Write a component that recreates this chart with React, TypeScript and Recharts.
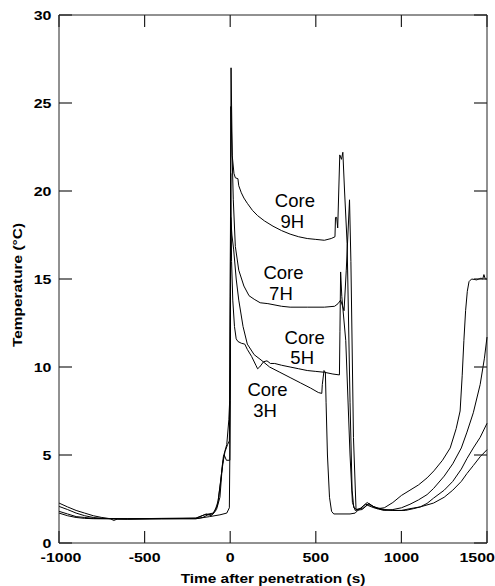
import * as React from "react";
import { Line, LineChart, ReferenceLine, XAxis, YAxis } from "recharts";

/* ---------- data: [time (s), temperature (°C)] ---------- */
const xTicks = [-1000, -500, 0, 500, 1000, 1500];
const yTicks = [0, 5, 10, 15, 20, 25, 30];

const core3H: [number, number][] = [
    [-1000, 1.7], [-950, 1.55], [-900, 1.45], [-850, 1.4], [-800, 1.38], [-600, 1.36], [-400, 1.38],
    [-200, 1.38], [-120, 1.5], [-60, 1.6], [-20, 1.7], [-5, 2.0], [-2, 5], [0, 8.1], [3, 18.5],
    [10, 17.5], [20, 16.7], [35, 15.0], [50, 13.8], [75, 12.3], [100, 11.3], [140, 10.7], [180, 10.4],
    [230, 10.0], [290, 9.7], [350, 9.4], [410, 9.1], [470, 8.8], [515, 8.55], [535, 8.5], [538, 9.0],
    [548, 9.8], [556, 9.7], [560, 8], [568, 5], [580, 2.6], [592, 1.8], [605, 1.65], [700, 1.65],
    [730, 1.7], [745, 1.85], [790, 2.2], [820, 2.15], [860, 1.95], [900, 2.0], [950, 2.3], [1000, 2.7],
    [1050, 3.0], [1100, 3.3], [1150, 3.7], [1190, 4.1], [1240, 4.7], [1285, 5.4], [1320, 6.5],
    [1343, 7.5], [1355, 9.5], [1365, 11.5], [1375, 13.2], [1385, 14.3], [1395, 14.85], [1410, 15.0],
    [1440, 14.95], [1465, 15.05], [1475, 15.0], [1482, 15.25], [1490, 15.0], [1500, 15.0],
];

const core5H: [number, number][] = [
    [-1000, 1.8], [-950, 1.65], [-900, 1.5], [-850, 1.45], [-800, 1.4], [-600, 1.38], [-400, 1.38],
    [-200, 1.38], [-160, 1.45], [-130, 1.6], [-100, 1.65], [-80, 1.9], [-60, 2.6], [-45, 4.5],
    [-30, 5.2], [-15, 5.6], [-5, 5.8], [0, 10], [3, 21.0], [8, 16], [15, 13.8], [25, 12.3], [35, 11.6],
    [45, 11.45], [65, 11.35], [85, 11.3], [100, 11.0], [125, 10.6], [150, 10.1], [160, 9.9], [172, 10.0],
    [195, 10.3], [215, 10.35], [235, 10.2], [260, 10.2], [300, 10.1], [350, 10.0], [400, 9.9],
    [450, 9.8], [500, 9.75], [550, 9.7], [600, 9.6], [638, 9.55], [641, 12], [645, 15.4], [652, 14],
    [675, 11.5], [700, 5], [714, 2.3], [730, 1.85], [770, 1.9], [800, 2.15], [840, 2.0], [900, 1.85],
    [950, 1.9], [1000, 2.0], [1050, 2.2], [1100, 2.45], [1150, 2.75], [1188, 3.1], [1250, 3.8],
    [1300, 4.5], [1350, 5.4], [1383, 6.3], [1420, 7.4], [1460, 9.0], [1485, 10.5], [1500, 11.7],
];

const core7H: [number, number][] = [
    [-1000, 2.08], [-950, 1.9], [-900, 1.7], [-850, 1.55], [-800, 1.45], [-750, 1.4], [-600, 1.36],
    [-400, 1.38], [-200, 1.4], [-140, 1.65], [-110, 1.55], [-90, 1.8], [-70, 2.4], [-50, 4.0],
    [-35, 5.0], [-22, 4.7], [-2, 4.7], [0, 12], [4, 24.8], [10, 22.5], [18, 19.5], [30, 16.85],
    [50, 15.5], [80, 14.6], [110, 14.05], [140, 13.85], [175, 13.65], [220, 13.6], [300, 13.45],
    [350, 13.4], [450, 13.4], [550, 13.4], [610, 13.45], [630, 13.6], [645, 13.8], [655, 13.5],
    [665, 13.2], [678, 15.5], [697, 19.5], [705, 16], [720, 6], [735, 1.9], [760, 1.95], [800, 2.3],
    [830, 2.1], [880, 1.9], [950, 1.85], [1000, 1.85], [1050, 1.95], [1110, 2.05], [1150, 2.25],
    [1188, 2.55], [1250, 3.0], [1300, 3.5], [1350, 4.2], [1383, 4.8], [1420, 5.4], [1460, 6.0],
    [1500, 6.8],
];

const core9H: [number, number][] = [
    [-1000, 2.27], [-950, 2.05], [-900, 1.85], [-850, 1.7], [-800, 1.55], [-750, 1.45], [-700, 1.38],
    [-680, 1.28], [-660, 1.36], [-550, 1.38], [-400, 1.4], [-200, 1.42], [-150, 1.6], [-100, 1.7],
    [-75, 2.1], [-57, 3.4], [-40, 4.9], [-20, 5.6], [-8, 7.0], [-3, 8.1], [0, 14], [5, 27.0], [12, 22.0],
    [22, 21.0], [30, 20.75], [45, 20.7], [50, 20.3], [65, 19.9], [80, 19.6], [100, 19.3], [130, 18.9],
    [160, 18.6], [200, 18.3], [250, 18.0], [300, 17.75], [350, 17.55], [400, 17.4], [450, 17.3],
    [500, 17.25], [550, 17.2], [590, 17.3], [612, 17.4], [615, 18.5], [622, 18.5], [628, 17.9],
    [640, 22.05], [650, 21.8], [658, 22.2], [668, 20.0], [683, 17.0], [700, 8], [712, 3], [722, 2.0],
    [740, 1.9], [780, 2.0], [810, 2.25], [840, 2.05], [900, 1.9], [950, 1.85], [1023, 1.85],
    [1070, 1.95], [1110, 2.05], [1188, 2.27], [1250, 2.6], [1300, 3.0], [1350, 3.5], [1383, 3.95],
    [1420, 4.4], [1460, 4.9], [1500, 5.3],
];

const coreNames = ["3H", "5H", "7H", "9H"];
const coreSeries = [core3H, core5H, core7H, core9H];
// where each "Core xH" caption sits, in data units (baseline of the first line)
const captionAnchors: [number, number][] = [[218, 8.35], [435, 11.32], [311, 15.0], [378, 19.09]];

/* ---------- layout / styling ---------- */
const W = 495;
const H = 586;
const MARGIN = { top: 15, right: 8, bottom: 0, left: 9 };
const Y_AXIS_W = 50;
const X_AXIS_H = 43;
const PLOT = {
    left: MARGIN.left + Y_AXIS_W,
    top: MARGIN.top,
    width: W - MARGIN.left - Y_AXIS_W - MARGIN.right,
    height: H - MARGIN.top - MARGIN.bottom - X_AXIS_H,
};
const FONT = '"Liberation Sans", Arial, Helvetica, sans-serif';
const STRETCH = 1.2;
const INK = "#222";
const X_MIN = -1000;
const X_MAX = 1500;
const Y_MIN = 0;
const Y_MAX = 30;
const TICK_V = 12; // inward tick length on top / bottom edges, px
const TICK_H = 13; // inward tick length on left / right edges, px

const toRows = (pts: [number, number][]) => pts.map(([t, v]) => ({ t, v }));
const px = (t: number) => PLOT.left + ((t - X_MIN) / (X_MAX - X_MIN)) * PLOT.width;
const py = (v: number) => PLOT.top + ((Y_MAX - v) / (Y_MAX - Y_MIN)) * PLOT.height;

function BottomTick({ x, y, payload }: any) {
    const v = payload.value;
    const tx = v === X_MAX ? Number(x) + 8 : v === X_MIN ? Number(x) + 2 : Number(x);
    return (
        <text
            transform={`translate(${tx},${Number(y) + 19}) scale(${STRETCH},1)`}
            textAnchor={v === X_MAX ? "end" : "middle"}
            fontFamily={FONT}
            fontWeight="bold"
            fontSize={13.3}
            fill="#000"
        >
            {v}
        </text>
    );
}

function LeftTick({ x, y, payload }: any) {
    return (
        <text
            transform={`translate(${Number(x) - 7.5},${Number(y) + 4.8}) scale(${STRETCH},1)`}
            textAnchor="end"
            fontFamily={FONT}
            fontWeight="bold"
            fontSize={13.3}
            fill="#000"
        >
            {payload.value}
        </text>
    );
}

/* axis titles, captions and the inward tick marks of the frame */
function OverlayLayer() {
    const x0 = px(X_MIN);
    const x1 = px(X_MAX);
    const y0 = py(Y_MIN);
    const y1 = py(Y_MAX);
    return (
        <svg
            width={W}
            height={H}
            style={{ position: "absolute", left: 0, top: 0, pointerEvents: "none" }}
        >
            <g stroke={INK} strokeWidth={1.2}>
                {xTicks.map((t) => (
                    <line key={`b${t}`} x1={px(t)} y1={y0} x2={px(t)} y2={y0 - TICK_V} />
                ))}
                {xTicks.map((t) => (
                    <line key={`t${t}`} x1={px(t)} y1={y1} x2={px(t)} y2={y1 + TICK_V} />
                ))}
                {yTicks.map((v) => (
                    <line key={`l${v}`} x1={x0} y1={py(v)} x2={x0 + TICK_H} y2={py(v)} />
                ))}
                {yTicks.map((v) => (
                    <line key={`r${v}`} x1={x1} y1={py(v)} x2={x1 - TICK_H} y2={py(v)} />
                ))}
            </g>
            <text
                transform={`translate(${PLOT.left + PLOT.width / 2},583) scale(1.16,1)`}
                textAnchor="middle"
                fontFamily={FONT}
                fontWeight="bold"
                fontSize={13.3}
                fill="#000"
            >
                Time after penetration (s)
            </text>
            <text
                transform={`translate(22,285) rotate(-90) scale(1.16,1)`}
                textAnchor="middle"
                fontFamily={FONT}
                fontWeight="bold"
                fontSize={13.3}
                fill="#000"
            >
                Temperature (°C)
            </text>
            {captionAnchors.map(([t, v], i) => (
                <text key={coreNames[i]} fontFamily={FONT} fontSize={18.5} fill="#000" textAnchor="middle">
                    <tspan x={px(t)} y={py(v)}>Core</tspan>
                    <tspan x={px(t) - 2.5} y={py(v) + 20.6}>{coreNames[i]}</tspan>
                </text>
            ))}
        </svg>
    );
}

export default function App() {
    return (
        <div style={{ position: "absolute", left: 0, top: 0, width: W, height: H, background: "#fff" }}>
            <LineChart width={W} height={H} margin={MARGIN}>
                <XAxis
                    dataKey="t"
                    type="number"
                    domain={[X_MIN, X_MAX]}
                    ticks={xTicks}
                    interval={0}
                    height={X_AXIS_H}
                    tickSize={0}
                    tickMargin={0}
                    tickLine={false}
                    axisLine={{ stroke: INK }}
                    tick={<BottomTick />}
                />
                <YAxis
                    type="number"
                    domain={[Y_MIN, Y_MAX]}
                    ticks={yTicks}
                    interval={0}
                    width={Y_AXIS_W}
                    tickSize={0}
                    tickMargin={0}
                    tickLine={false}
                    axisLine={{ stroke: INK }}
                    tick={<LeftTick />}
                />

                {/* frame: top and right edges */}
                <ReferenceLine y={Y_MAX} stroke={INK} ifOverflow="visible" />
                <ReferenceLine x={X_MAX} stroke={INK} ifOverflow="visible" />

                {coreSeries.map((pts, i) => (
                    <Line
                        key={coreNames[i]}
                        data={toRows(pts)}
                        dataKey="v"
                        type="linear"
                        stroke="#000"
                        strokeWidth={1}
                        dot={false}
                        activeDot={false}
                        isAnimationActive={false}
                    />
                ))}
            </LineChart>
            <OverlayLayer />
        </div>
    );
}
